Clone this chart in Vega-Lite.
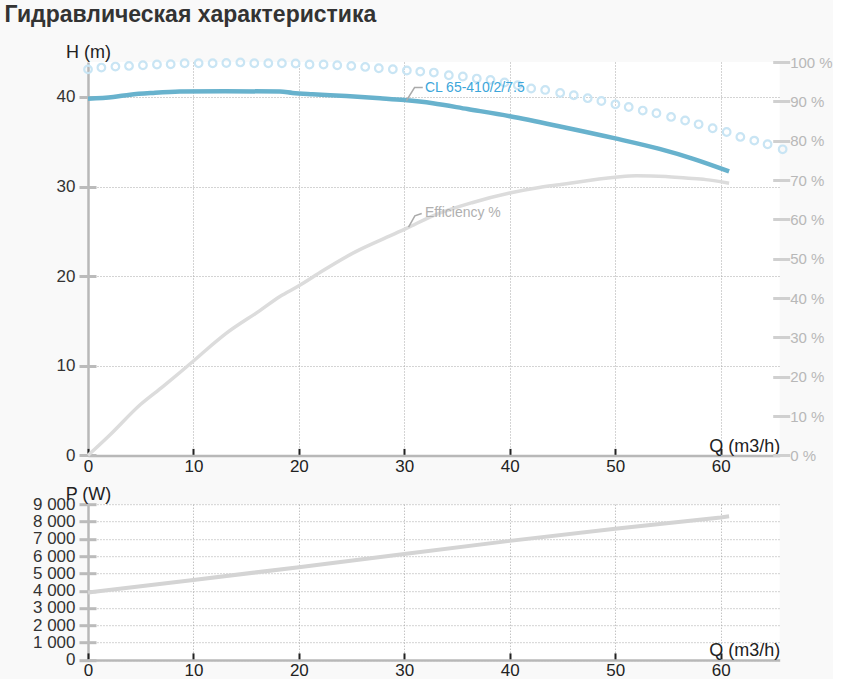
{
  "$schema": "https://vega.github.io/schema/vega-lite/v6.json",
  "background": "#f9f9f9",
  "padding": {"left": 4, "top": 4, "right": 0, "bottom": 0},
  "title": {
    "text": "Гидравлическая характеристика",
    "anchor": "start",
    "font": "Liberation Sans",
    "fontSize": 23,
    "fontWeight": "bold",
    "color": "#333333",
    "dx": -28,
    "offset": 16
  },
  "datasets": {
    "head": [
      {"q": 0, "h": 39.8}, {"q": 2.4, "h": 40.0}, {"q": 4, "h": 40.25}, {"q": 6.2, "h": 40.45},
      {"q": 8.7, "h": 40.6}, {"q": 13, "h": 40.65}, {"q": 18.2, "h": 40.6}, {"q": 19.4, "h": 40.45},
      {"q": 21.3, "h": 40.3}, {"q": 24.5, "h": 40.1}, {"q": 27.7, "h": 39.85}, {"q": 30, "h": 39.65},
      {"q": 32.7, "h": 39.3}, {"q": 36, "h": 38.65}, {"q": 40, "h": 37.85}, {"q": 45, "h": 36.65},
      {"q": 49.9, "h": 35.4}, {"q": 54.2, "h": 34.2}, {"q": 57.4, "h": 33.1}, {"q": 60.8, "h": 31.7}
    ],
    "dots": [
      {"q": 0, "h": 43.08}, {"q": 1.27, "h": 43.28}, {"q": 2.6, "h": 43.39}, {"q": 3.89, "h": 43.46},
      {"q": 5.21, "h": 43.54}, {"q": 6.54, "h": 43.62}, {"q": 7.84, "h": 43.65}, {"q": 9.16, "h": 43.76},
      {"q": 10.49, "h": 43.76}, {"q": 11.82, "h": 43.76}, {"q": 13.12, "h": 43.79}, {"q": 14.45, "h": 43.85},
      {"q": 15.77, "h": 43.76}, {"q": 17.1, "h": 43.76}, {"q": 18.39, "h": 43.76}, {"q": 19.69, "h": 43.73},
      {"q": 21.01, "h": 43.62}, {"q": 22.34, "h": 43.62}, {"q": 23.64, "h": 43.54}, {"q": 24.97, "h": 43.46},
      {"q": 26.29, "h": 43.35}, {"q": 27.58, "h": 43.2}, {"q": 28.91, "h": 43.09}, {"q": 30.24, "h": 42.95},
      {"q": 31.51, "h": 42.83}, {"q": 32.8, "h": 42.72}, {"q": 34.22, "h": 42.42}, {"q": 35.55, "h": 42.28},
      {"q": 36.87, "h": 42.05}, {"q": 38.17, "h": 41.9}, {"q": 39.5, "h": 41.61}, {"q": 40.76, "h": 41.31},
      {"q": 42.03, "h": 40.94}, {"q": 43.36, "h": 40.78}, {"q": 44.78, "h": 40.45}, {"q": 46.07, "h": 40.19},
      {"q": 47.39, "h": 39.86}, {"q": 48.69, "h": 39.55}, {"q": 50.02, "h": 39.18}, {"q": 51.28, "h": 38.88},
      {"q": 52.61, "h": 38.48}, {"q": 53.91, "h": 38.18}, {"q": 55.3, "h": 37.77}, {"q": 56.63, "h": 37.37},
      {"q": 57.91, "h": 36.95}, {"q": 59.24, "h": 36.51}, {"q": 60.57, "h": 36.09}, {"q": 61.87, "h": 35.54},
      {"q": 63.19, "h": 35.13}, {"q": 64.45, "h": 34.72}, {"q": 65.88, "h": 34.16}
    ],
    "eff": [
      {"q": 0, "e": 0}, {"q": 2, "e": 5}, {"q": 5, "e": 13}, {"q": 7.1, "e": 17.5}, {"q": 10, "e": 24},
      {"q": 11.2, "e": 26.8}, {"q": 13.1, "e": 31}, {"q": 16.3, "e": 36.8}, {"q": 18.2, "e": 40.4},
      {"q": 20, "e": 43.1}, {"q": 22.3, "e": 47}, {"q": 25.4, "e": 51.8}, {"q": 28.3, "e": 55.4},
      {"q": 30.2, "e": 57.7}, {"q": 32.7, "e": 60.9}, {"q": 36.5, "e": 64.3}, {"q": 40, "e": 66.7},
      {"q": 42.8, "e": 68.1}, {"q": 44.7, "e": 68.8}, {"q": 50, "e": 70.7}, {"q": 52, "e": 71.1},
      {"q": 54.8, "e": 70.9}, {"q": 56.7, "e": 70.5}, {"q": 58.6, "e": 70.1}, {"q": 60.8, "e": 69.2}
    ],
    "power": [
      {"q": 0, "p": 3890}, {"q": 10, "p": 4620}, {"q": 20, "p": 5360}, {"q": 30, "p": 6120},
      {"q": 40, "p": 6880}, {"q": 50, "p": 7580}, {"q": 60, "p": 8230}, {"q": 60.8, "p": 8300}
    ],
    "clLeader": [{"q": 30.2, "h": 39.6}, {"q": 30.97, "h": 41.05}, {"q": 31.75, "h": 41.05}],
    "clLabel": [{"q": 31.95, "h": 41.05, "text": "CL 65-410/2/7.5"}],
    "effLeader": [{"q": 30.4, "e": 58}, {"q": 31.0, "e": 60.9}, {"q": 31.65, "e": 61.5}],
    "effLabel": [{"q": 31.95, "e": 61.6, "text": "Efficiency %"}]
  },
  "vconcat": [
    {
      "width": 691.7,
      "height": 393.4,
      "encoding": {
        "x": {
          "field": "q",
          "type": "quantitative",
          "scale": {"domain": [0, 65.6], "nice": false, "zero": false},
          "axis": {
            "values": [0, 10, 20, 30, 40, 50, 60],
            "domainColor": "#b8b8b8",
            "domainWidth": 2.5,
            "tickColor": "#222222",
            "tickWidth": 2,
            "tickSize": -7,
            "labelPadding": 10,
            "labelFontSize": 17,
            "labelColor": "#222222",
            "grid": true,
            "gridColor": {"condition": {"test": "datum.value === 0", "value": "#b8b8b8"}, "value": "#a8a8a8"},
            "gridDash": {"condition": {"test": "datum.value === 0", "value": []}, "value": [1, 2]},
            "gridWidth": {"condition": {"test": "datum.value === 0", "value": 2.5}, "value": 1},
            "title": "Q (m3/h)",
            "titleX": 691.7,
            "titleY": -4,
            "titleAlign": "right",
            "titleBaseline": "alphabetic",
            "titleFontSize": 18,
            "titleColor": "#222222"
          }
        }
      },
      "layer": [
        {
          "data": {"name": "eff"},
          "mark": {"type": "line", "color": "#dcdcdc", "strokeWidth": 3.5, "interpolate": "monotone"},
          "encoding": {
            "y": {
              "field": "e",
              "type": "quantitative",
              "scale": {"domain": [0, 100], "nice": false},
              "axis": {
                "orient": "right",
                "offset": -7,
                "values": [0, 10, 20, 30, 40, 50, 60, 70, 80, 90, 100],
                "tickSize": 17,
                "tickWidth": 3,
                "tickColor": "#d0d0d0",
                "domain": false,
                "grid": false,
                "labelPadding": 0,
                "labelFontSize": 15,
                "labelColor": "#b8b8b8",
                "labelExpr": "datum.value + ' %'",
                "title": null
              }
            }
          }
        },
        {
          "data": {"name": "dots"},
          "mark": {"type": "point", "shape": "circle", "filled": false, "size": 58, "strokeWidth": 2.2, "color": "#c9e5f4", "opacity": 1},
          "encoding": {
            "y": {"field": "h", "type": "quantitative", "scale": {"domain": [0, 43.9], "nice": false}, "axis": null}
          }
        },
        {
          "data": {"name": "head"},
          "mark": {"type": "line", "color": "#68b2cd", "strokeWidth": 4.5, "interpolate": "monotone"},
          "encoding": {
            "y": {
              "field": "h",
              "type": "quantitative",
              "scale": {"domain": [0, 43.9], "nice": false},
              "axis": {
                "orient": "left",
                "offset": -8,
                "values": [0, 10, 20, 30, 40],
                "tickSize": 17,
                "tickWidth": 3,
                "tickColor": "#bbbbbb",
                "domain": false,
                "grid": true,
                "gridColor": "#a8a8a8",
                "gridDash": [1, 2],
                "labelPadding": 4,
                "labelFontSize": 17,
                "labelColor": "#333333",
                "title": "H (m)",
                "titleAngle": 0,
                "titleX": -8,
                "titleY": -5,
                "titleAlign": "center",
                "titleBaseline": "alphabetic",
                "titleFontSize": 18,
                "titleColor": "#222222"
              }
            }
          }
        },
        {
          "data": {"name": "effLeader"},
          "mark": {"type": "line", "color": "#aaaaaa", "strokeWidth": 1.5},
          "encoding": {
            "y": {"field": "e", "type": "quantitative", "scale": {"domain": [0, 100], "nice": false}, "axis": null}
          }
        },
        {
          "data": {"name": "effLabel"},
          "mark": {"type": "text", "align": "left", "baseline": "middle", "fontSize": 14, "color": "#b0b0b0", "font": "Liberation Sans"},
          "encoding": {
            "y": {"field": "e", "type": "quantitative", "scale": {"domain": [0, 100], "nice": false}, "axis": null},
            "text": {"field": "text"}
          }
        },
        {
          "data": {"name": "clLeader"},
          "mark": {"type": "line", "color": "#aaaaaa", "strokeWidth": 1.5},
          "encoding": {
            "y": {"field": "h", "type": "quantitative", "scale": {"domain": [0, 43.9], "nice": false}, "axis": null}
          }
        },
        {
          "data": {"name": "clLabel"},
          "mark": {"type": "text", "align": "left", "baseline": "middle", "fontSize": 14, "color": "#3ca6da", "font": "Liberation Sans"},
          "encoding": {
            "y": {"field": "h", "type": "quantitative", "scale": {"domain": [0, 43.9], "nice": false}, "axis": null},
            "text": {"field": "text"}
          }
        }
      ],
      "resolve": {"scale": {"y": "independent"}}
    },
    {
      "width": 691.7,
      "height": 155.7,
      "data": {"name": "power"},
      "mark": {"type": "line", "color": "#d4d4d4", "strokeWidth": 4},
      "encoding": {
        "x": {
          "field": "q",
          "type": "quantitative",
          "scale": {"domain": [0, 65.6], "nice": false, "zero": false},
          "axis": {
            "values": [0, 10, 20, 30, 40, 50, 60],
            "domainColor": "#b8b8b8",
            "domainWidth": 2.5,
            "tickColor": "#222222",
            "tickWidth": 2,
            "tickSize": -7,
            "labelPadding": 10,
            "labelFontSize": 17,
            "labelColor": "#222222",
            "grid": true,
            "gridColor": {"condition": {"test": "datum.value === 0", "value": "#b8b8b8"}, "value": "#a8a8a8"},
            "gridDash": {"condition": {"test": "datum.value === 0", "value": []}, "value": [1, 2]},
            "gridWidth": {"condition": {"test": "datum.value === 0", "value": 2.5}, "value": 1},
            "title": "Q (m3/h)",
            "titleX": 691.7,
            "titleY": -4,
            "titleAlign": "right",
            "titleBaseline": "alphabetic",
            "titleFontSize": 18,
            "titleColor": "#222222"
          }
        },
        "y": {
          "field": "p",
          "type": "quantitative",
          "scale": {"domain": [0, 9000], "nice": false},
          "axis": {
            "orient": "left",
            "offset": -8,
            "values": [0, 1000, 2000, 3000, 4000, 5000, 6000, 7000, 8000, 9000],
            "tickSize": 17,
            "tickWidth": 3,
            "tickColor": "#bbbbbb",
            "domain": false,
            "grid": true,
            "gridColor": "#a8a8a8",
            "gridDash": [1, 2],
            "labelPadding": 4,
            "labelFontSize": 17,
            "labelColor": "#333333",
            "labelExpr": "replace(format(datum.value, ','), ',', ' ')",
            "title": "P (W)",
            "titleAngle": 0,
            "titleX": -8,
            "titleY": -5,
            "titleAlign": "center",
            "titleBaseline": "alphabetic",
            "titleFontSize": 18,
            "titleColor": "#222222"
          }
        }
      }
    }
  ],
  "spacing": 48.2,
  "bounds": "flush",
  "config": {
    "view": {"stroke": null, "fill": "#ffffff"},
    "font": "Liberation Sans",
    "axis": {
      "labelFont": "Liberation Sans",
      "titleFont": "Liberation Sans",
      "titleFontWeight": "normal",
      "labelFlush": false,
      "labelOverlap": false,
      "labelBound": false
    }
  }
}
